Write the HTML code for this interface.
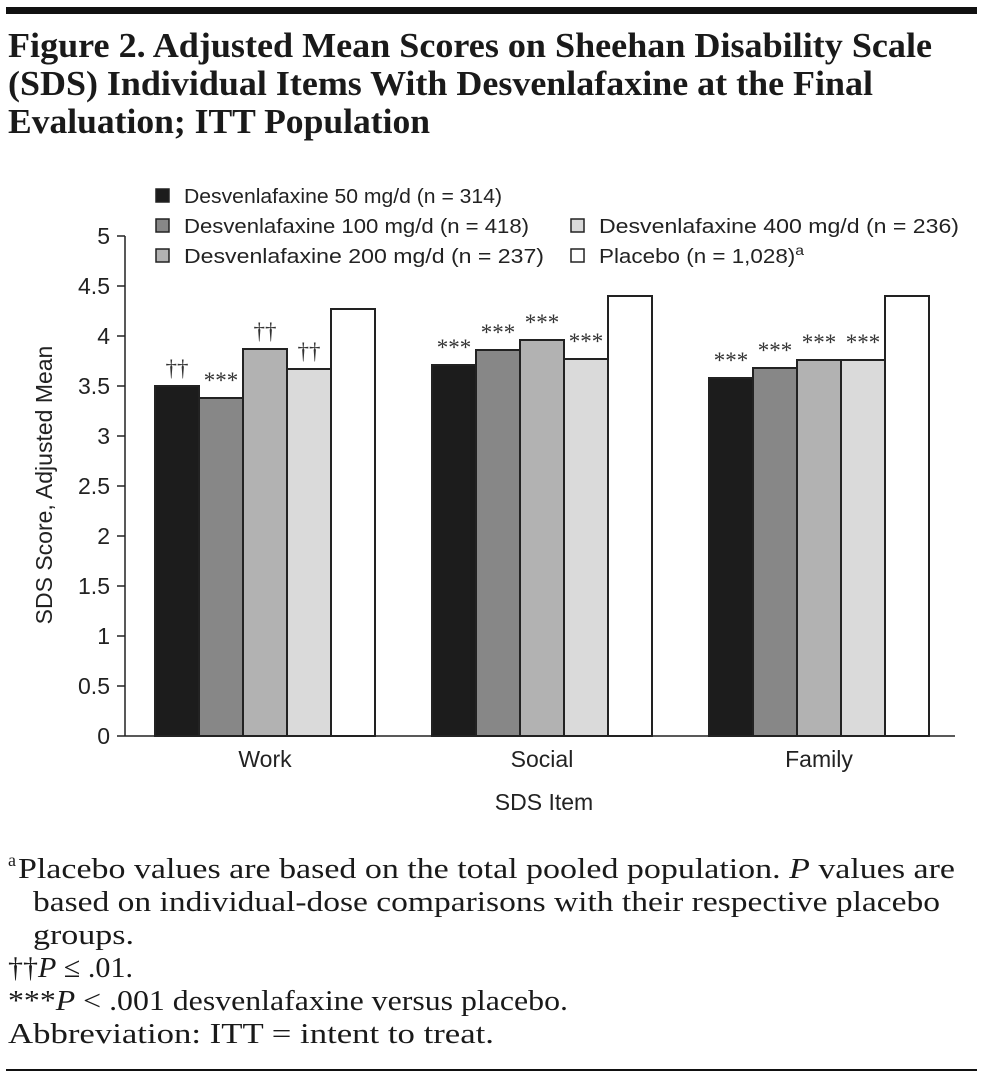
<!DOCTYPE html>
<html><head><meta charset="utf-8"><style>
body{margin:0;background:#fff;width:985px;height:1082px;overflow:hidden}
svg{display:block}
.sans{font-family:"Liberation Sans",sans-serif}
.serif{font-family:"Liberation Serif",serif}
</style></head><body>
<svg width="985" height="1082" xmlns="http://www.w3.org/2000/svg">
<rect x="6" y="7" width="971" height="7" fill="#111"/>
<g class="serif" font-size="35" font-weight="bold" fill="#1a1a1a">
<text x="8" y="57" textLength="924" lengthAdjust="spacingAndGlyphs">Figure 2. Adjusted Mean Scores on Sheehan Disability Scale</text>
<text x="8" y="95" textLength="865" lengthAdjust="spacingAndGlyphs">(SDS) Individual Items With Desvenlafaxine at the Final</text>
<text x="8" y="133" textLength="422" lengthAdjust="spacingAndGlyphs">Evaluation; ITT Population</text></g>
<g id="legend"></g>
<g id="axis"></g>
<g id="bars"></g>
<text class="sans" font-size="23" fill="#222" transform="translate(52,485) rotate(-90)" text-anchor="middle">SDS Score, Adjusted Mean</text>
<text class="sans" font-size="23" fill="#222" x="544" y="810" text-anchor="middle">SDS Item</text>
<g class="serif" font-size="29" fill="#1a1a1a">
<text x="8" y="866" font-size="18">a</text>
<text x="18" y="878" textLength="937" lengthAdjust="spacingAndGlyphs">Placebo values are based on the total pooled population. <tspan font-style="italic">P</tspan> values are</text>
<text x="33" y="911" textLength="907" lengthAdjust="spacingAndGlyphs">based on individual-dose comparisons with their respective placebo</text>
<text x="33" y="944" textLength="101" lengthAdjust="spacingAndGlyphs">groups.</text>
<text x="8" y="977" textLength="125" lengthAdjust="spacingAndGlyphs">††<tspan font-style="italic">P</tspan> ≤ .01.</text>
<text x="8" y="1010" textLength="560" lengthAdjust="spacingAndGlyphs">***<tspan font-style="italic">P</tspan> &lt; .001 desvenlafaxine versus placebo.</text>
<text x="8" y="1043" textLength="486" lengthAdjust="spacingAndGlyphs">Abbreviation: ITT = intent to treat.</text></g>
<rect x="6" y="1069" width="971" height="2" fill="#111"/>
</svg>
<script>
const categories=["Work","Social","Family"];
const seriesNames=["Desvenlafaxine 50 mg/d (n = 314)","Desvenlafaxine 100 mg/d (n = 418)","Desvenlafaxine 200 mg/d (n = 237)","Desvenlafaxine 400 mg/d (n = 236)","Placebo (n = 1,028)"];
const d50=[3.50,3.71,3.58];
const d100=[3.38,3.86,3.68];
const d200=[3.87,3.96,3.76];
const d400=[3.67,3.77,3.76];
const placebo=[4.27,4.40,4.40];
const sig50=["††","***","***"];
const sig100=["***","***","***"];
const sig200=["††","***","***"];
const sig400=["††","***","***"];
const yTicks=[0,0.5,1,1.5,2,2.5,3,3.5,4,4.5,5];
const yTickLabels=["0","0.5","1","1.5","2","2.5","3","3.5","4","4.5","5"];
const NS="http://www.w3.org/2000/svg";
const fills=["#1c1c1c","#878787","#b2b2b2","#dadada","#ffffff"];
const series=[d50,d100,d200,d400,placebo];
const sigs=[sig50,sig100,sig200,sig400,null];
const y=v=>736-v*100;
const groupX=i=>155+i*277;
const bw=44;
function mk(t,a,p){const e=document.createElementNS(NS,t);for(const k in a)e.setAttribute(k,a[k]);p.appendChild(e);return e;}
const ax=document.getElementById('axis');
const al=mk('line',{x1:125,x2:125,y1:y(5),y2:y(0),stroke:'#222','stroke-width':1.5},ax);


yTicks.forEach((t,i)=>{
 const l=mk('line',{x1:117,x2:125,y1:y(t),y2:y(t),stroke:'#222','stroke-width':1.5},ax);
 
 
 const tx=mk('text',{x:110,y:y(t)+8,'text-anchor':'end','font-size':23,fill:'#222',class:'sans'},ax);
 tx.textContent=yTickLabels[i];
 
 
});
const bl=mk('line',{x1:125,x2:955,y1:y(0),y2:y(0),stroke:'#222','stroke-width':1.5},ax);


const bg=document.getElementById('bars');
categories.forEach((c,ci)=>{
 series.forEach((s,si)=>{
  const x=groupX(ci)+si*bw;
  const r=mk('rect',{x:x,y:y(s[ci]),width:bw,height:y(0)-y(s[ci]),fill:fills[si],stroke:'#222','stroke-width':2},bg);
  
  
  if(sigs[si]){
   const t=mk('text',{x:x+bw/2,y:y(s[ci])-10,'text-anchor':'middle','font-size':23,fill:'#333',class:'serif'},bg);
   t.textContent=sigs[si][ci];
   
   
  }
 });
 const lb=mk('text',{x:groupX(ci)+2.5*bw,y:767,'text-anchor':'middle','font-size':23,fill:'#222',class:'sans'},bg);
 lb.textContent=c;
 
 
});
const lg=document.getElementById('legend');
const pos=[[155,196],[155,226],[155,256],[570,226],[570,256]];
const lens=[318,345,360,360,205];
seriesNames.forEach((n,i)=>{
 const [lx,ly]=pos[i];
 const r=mk('rect',{x:lx+1,y:ly-7,width:13,height:13,fill:fills[i],stroke:'#222','stroke-width':1.5},lg);
 
 
 const t=mk('text',{x:lx+29,y:ly+7,'font-size':20,fill:'#222',class:'sans'},lg);
 t.textContent=n;
 if(i===4){const s=mk('tspan',{dy:-8,'font-size':14},t);s.textContent='a';}
 t.setAttribute('textLength',lens[i]);
 t.setAttribute('lengthAdjust','spacingAndGlyphs');
 
 
});
</script>
</body></html>
